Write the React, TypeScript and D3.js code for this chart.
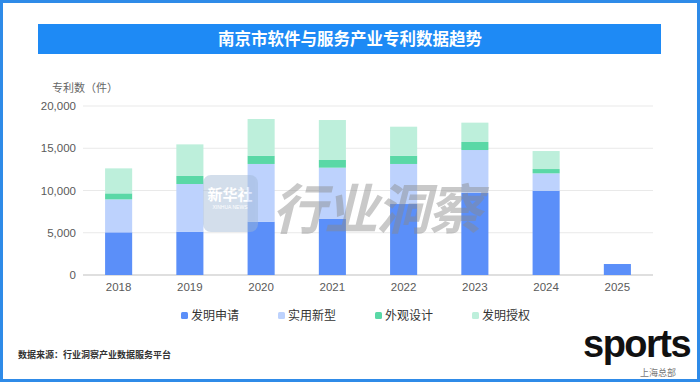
import React from "react";
import * as d3 from "d3";

const years = ["2018", "2019", "2020", "2021", "2022", "2023", "2024", "2025"];
const seriesNames = ["发明申请", "实用新型", "外观设计", "发明授权"];
const invention = [5050, 5130, 6310, 6630, 8400, 9740, 9980, 1300];
const utility = [3900, 5640, 6830, 6070, 4740, 5050, 2050, 0];
const design = [710, 950, 980, 910, 980, 950, 510, 0];
const granted = [2960, 3740, 4340, 4730, 3430, 2290, 2130, 0];
const yTicks = [0, 5000, 10000, 15000, 20000];
const colors = ["#5B8FF9", "#BDD2FD", "#5AD8A6", "#BDEFDB"];

const W = 700;
const H = 382;
const left = 83;
const right = 653;
const top = 106;
const bottom = 275;
const FONT = "'Noto Sans CJK SC', 'Noto Sans', sans-serif";
const NUMFONT = "'Liberation Sans', Arial, sans-serif";

export default function App() {
  const table = years.map((y, i) => ({
    year: y,
    [seriesNames[0]]: invention[i],
    [seriesNames[1]]: utility[i],
    [seriesNames[2]]: design[i],
    [seriesNames[3]]: granted[i],
  }));
  const stack = d3.stack<any>().keys(seriesNames)(table);
  const x = d3.scaleBand().domain(years).range([left, right]).paddingInner(0.62).paddingOuter(0.31);
  const y = d3.scaleLinear().domain([0, 20000]).range([bottom, top]);
  const fmt = d3.format(",");
  const legendX = [181, 278, 375, 472];

  return (
    <svg width={W} height={H} style={{ position: "absolute", left: 0, top: 0, display: "block" }} fontFamily={FONT}>
      <rect x={0} y={0} width={W} height={H} fill="#ffffff" />
      <rect x={1.5} y={1.5} width={W - 3} height={H - 3} fill="none" stroke="#2F8BE8" strokeWidth={3} />
      <rect x={38} y={24} width={623} height={30} fill="#1E8AF5" />
      <text x={350} y={45} textAnchor="middle" fill="#fff" fontSize={16.5} fontWeight="bold">
        南京市软件与服务产业专利数据趋势
      </text>

      <text x={52} y={92} fontSize={11} fill="#666">专利数（件）</text>

      {yTicks.map((t) => (
        <g key={t}>
          <line x1={left} x2={right} y1={y(t)} y2={y(t)} stroke={t === 0 ? "#bfbfbf" : "#e9e9e9"} strokeWidth={1} />
          <text x={76} y={y(t) + 4} textAnchor="end" fontSize={11.5} fill="#5a5a5a" fontFamily={NUMFONT}>{fmt(t)}</text>
        </g>
      ))}

      {stack.map((s, si) => (
        <g key={s.key} fill={colors[si]}>
          {s.map((d, i) =>
            d[1] - d[0] > 0 ? (
              <rect key={i} x={x(years[i])} width={x.bandwidth()} y={y(d[1])} height={y(d[0]) - y(d[1])} />
            ) : null
          )}
        </g>
      ))}

      {years.map((yr) => (
        <text key={yr} x={(x(yr) as number) + x.bandwidth() / 2} y={291} textAnchor="middle" fontSize={11.5} fill="#5a5a5a" fontFamily={NUMFONT}>
          {yr}
        </text>
      ))}

      {/* watermarks */}
      <g opacity={0.45}>
        <rect x={203} y={175} width={55} height={57} rx={8} fill="#9fb7d4" />
        <text x={230} y={200} textAnchor="middle" fontSize={15} fill="#fff" fontWeight="bold">新华社</text>
        <text x={230} y={209} textAnchor="middle" fontSize={5} fill="#fff" fontFamily={NUMFONT}>XINHUA NEWS</text>
      </g>
      <text x={272} y={229} fontSize={54} fontWeight="bold" fontStyle="italic" fill="#8a8a8a" opacity={0.45} letterSpacing={-2}>
        行业洞察
      </text>

      {seriesNames.map((n, i) => (
        <g key={n}>
          <rect x={legendX[i]} y={312} width={7} height={7} rx={1.5} fill={colors[i]} />
          <text x={legendX[i] + 10} y={320} fontSize={12} fill="#333">{n}</text>
        </g>
      ))}

      <text x={18} y={358} fontSize={9} fill="#333" fontWeight="bold">数据来源：行业洞察产业数据服务平台</text>

      <g>
        <text x={583} y={357} fontSize={38} fontWeight="bold" fill="#111" letterSpacing={-1.5} fontFamily={NUMFONT}>
          sports
        </text>
        <text x={640} y={376} fontSize={9} fill="#777">上海总部</text>
      </g>
    </svg>
  );
}
